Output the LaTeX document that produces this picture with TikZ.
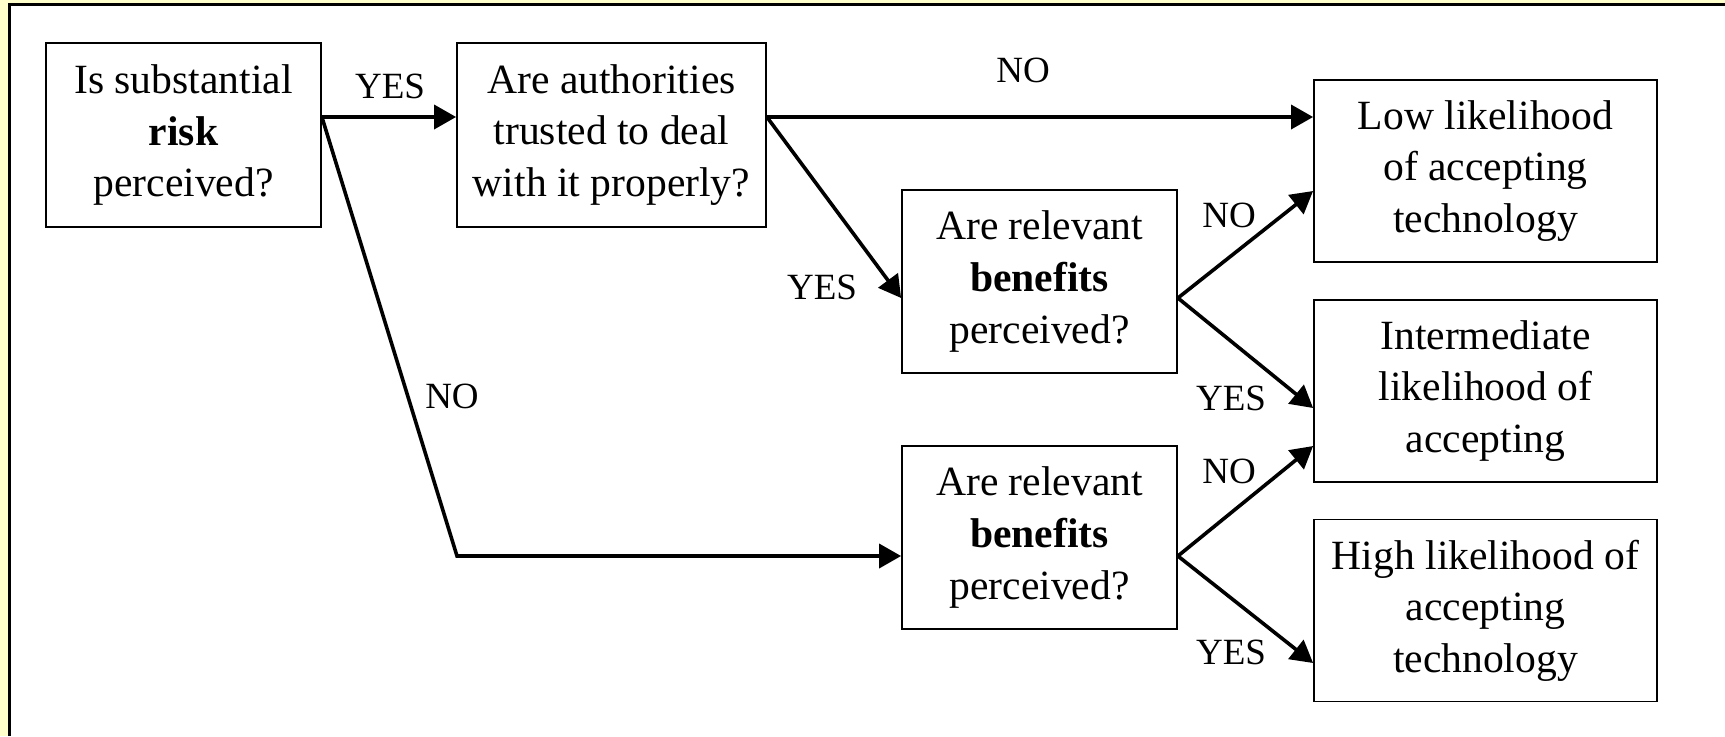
\documentclass[tikz,border=0pt]{standalone}
\usepackage{fontspec}
\setmainfont{Liberation Serif}
\usetikzlibrary{arrows.meta,calc}
\definecolor{bgyellow}{HTML}{FFFFCC}
\tikzset{
  qbox/.style={draw=black,line width=0.9pt,fill=white,align=center,inner sep=0pt,
    font=\fontsize{20.8pt}{25.8pt}\selectfont},
  conn/.style={line width=1.8pt,-{Triangle[length=11pt,width=12pt]}},
  lbl/.style={font=\fontsize{18.5pt}{20pt}\selectfont,inner sep=0pt}
}
\begin{document}
\begin{tikzpicture}[x=0.5pt,y=-0.5pt]
\useasboundingbox (0,0) rectangle (1725,736);
\fill[bgyellow] (0,0) rectangle (1725,736);
\fill[white] (9.7,4.7) rectangle (1725,736);
\draw[line width=1.35pt] (9.7,736) -- (9.7,4.7) -- (1725,4.7);

\node[qbox,minimum width=137.5pt,minimum height=92pt] (b1) at (183.5,135) {Is substantial\\\textbf{risk}\\perceived?};
\node[qbox,minimum width=154.5pt,minimum height=92pt] (b2) at (611.5,135) {Are authorities\\trusted to deal\\with it properly?};
\node[qbox,minimum width=137.5pt,minimum height=91.5pt] (b3) at (1039.5,281.5) {Are relevant\\\textbf{benefits}\\perceived?};
\node[qbox,minimum width=137.5pt,minimum height=91.5pt] (b4) at (1039.5,537.5) {Are relevant\\\textbf{benefits}\\perceived?};
\node[qbox,minimum width=171.5pt,minimum height=91pt] (low) at (1485.5,171) {Low likelihood\\of accepting\\technology};
\node[qbox,minimum width=171.5pt,minimum height=91pt] (mid) at (1485.5,391) {Intermediate\\likelihood of\\accepting};
\node[qbox,minimum width=171.5pt,minimum height=91pt] (high) at (1485.5,610.5) {High likelihood of\\accepting\\technology};

\coordinate (b1o) at ($(b1.east)+(0,-18)$);
\coordinate (b2i) at ($(b2.west)+(0,-18)$);
\coordinate (b2o) at ($(b2.east)+(0,-18)$);
\coordinate (lowa) at ($(low.west)+(0,-54)$);
\coordinate (lowb) at ($(low.west)+(0,20)$);
\coordinate (b3i) at ($(b3.west)+(0,16.5)$);
\coordinate (b3o) at ($(b3.east)+(0,16.5)$);
\coordinate (b4i) at ($(b4.west)+(0,18.5)$);
\coordinate (b4o) at ($(b4.east)+(0,18.5)$);
\coordinate (mida) at ($(mid.west)+(0,17)$);
\coordinate (midb) at ($(mid.west)+(0,55)$);
\coordinate (higha) at ($(high.west)+(0,52.5)$);
\coordinate (corner) at (457,556);

\draw[conn] (b1o) -- (b2i);
\draw[conn] (b2o) -- (lowa);
\draw[conn] (b2o) -- (b3i);
\draw[conn] (b1o) -- (corner) -- (b4i);
\draw[conn] (b3o) -- (lowb);
\draw[conn] (b3o) -- (mida);
\draw[conn] (b4o) -- (midb);
\draw[conn] (b4o) -- (higha);

\node[lbl] (l1) at (390,86) {YES};
\node[lbl] (l2) at (1023,70) {NO};
\node[lbl] (l3) at (822,287) {YES};
\node[lbl] (l4) at (452,396) {NO};
\node[lbl] (l5) at (1229,215) {NO};
\node[lbl] (l6) at (1231,398) {YES};
\node[lbl] (l7) at (1229,471) {NO};
\node[lbl] (l8) at (1231,652) {YES};
\end{tikzpicture}
\end{document}
